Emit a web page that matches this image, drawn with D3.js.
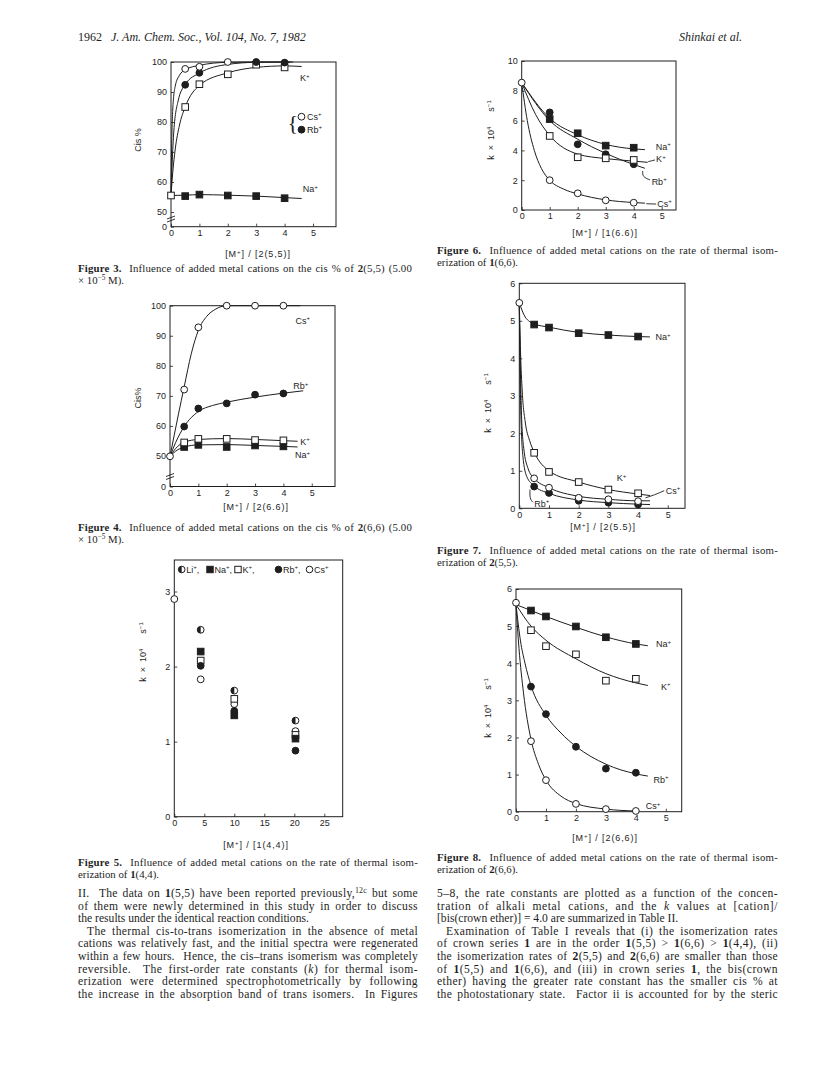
<!DOCTYPE html>
<html>
<head>
<meta charset="utf-8">
<script src="https://cdn.jsdelivr.net/npm/d3@7"></script>
<style>
  body { margin: 0; background: #fff; }
  svg { display: block; }
</style>
</head>
<body>
<svg id="page" width="821" height="1069"></svg>
<script>
// ---- data ----
// Figure 3: cis % of 2(5,5)
const f3XTicks = [0, 1, 2, 3, 4, 5];
const f3YTicks = [0, 50, 60, 70, 80, 90, 100];
const f3Cs = [[0.5, 97.7], [1, 98.4], [2, 100]];
const f3Rb = [[0.5, 92.4], [1, 96.4], [3, 100], [4, 99.8]];
const f3K = [[0, 55.5], [0.5, 85], [1, 92.6], [2, 95.9], [3, 99.1], [4, 98.2]];
const f3Na = [[0.5, 55.3], [1, 55.8], [2, 55.5], [3, 55.3], [4, 54.6]];
const f3CsFit = [[0, 55.5], [0.02, 70], [0.06, 84], [0.15, 92], [0.3, 95.6], [0.5, 97.4], [1, 98.9], [2, 99.9], [3, 100], [4.2, 100]];
const f3RbFit = [[0, 55.5], [0.04, 66], [0.1, 77], [0.25, 87], [0.5, 92.5], [1, 96.3], [2, 99.2], [3, 99.9], [4.3, 100]];
const f3KFit = [[0, 55.5], [0.06, 63], [0.15, 71], [0.3, 79], [0.5, 85], [1, 92.2], [2, 96.4], [3, 98.2], [4, 98.7], [4.6, 98.5]];
const f3NaFit = [[0, 55.5], [0.5, 55.6], [1, 55.8], [2, 55.6], [3, 55.3], [4, 54.8], [4.6, 54.5]];

// Figure 4: cis % of 2(6,6)
const f4XTicks = [0, 1, 2, 3, 4, 5];
const f4YTicks = [0, 50, 60, 70, 80, 90, 100];
const f4Cs = [[0, 49.5], [0.5, 72.1], [1, 92.8], [2, 100], [3, 100], [4, 100]];
const f4Rb = [[0.5, 59.8], [1, 65.8], [2, 67.5], [3, 70.4], [4, 70.8]];
const f4K = [[0.5, 54.5], [1, 55.7], [2, 55.7], [3, 55.3], [4, 55.2]];
const f4Na = [[0.5, 53], [1, 53.7], [2, 53], [3, 53.5], [4, 53.2]];
const f4CsFit = [[0, 49.5], [0.15, 57], [0.3, 64], [0.5, 73], [0.75, 84], [1, 91.8], [1.3, 96.5], [1.6, 98.8], [2, 100], [4.6, 100]];
const f4RbFit = [[0, 49.5], [0.2, 54.5], [0.5, 59.8], [1, 64.8], [1.5, 66.8], [2, 67.9], [3, 69.6], [4, 70.9], [4.7, 71.7]];
const f4KFit = [[0, 49.5], [0.2, 52.5], [0.5, 54.6], [1, 55.5], [2, 55.8], [3, 55.5], [4, 55.1], [4.5, 54.9]];
const f4NaFit = [[0, 49.5], [0.2, 51.6], [0.5, 53], [1, 53.7], [2, 53.8], [3, 53.5], [4, 53.2], [4.5, 53.0]];

// Figure 5: k of 1(4,4)
const f5XTicks = [0, 5, 10, 15, 20, 25];
const f5YTicks = [0, 1, 2, 3];
const f5Li = [[4.4, 2.49], [10, 1.68], [20.2, 1.28]];
const f5Na = [[4.4, 2.2], [10, 1.35], [20.2, 1.04]];
const f5K = [[4.4, 2.08], [10, 1.57], [20.2, 1.09]];
const f5Rb = [[4.4, 2.01], [10, 1.41], [20.2, 0.88]];
const f5Cs = [[0, 2.9], [4.4, 1.83], [10, 1.5], [20.2, 1.14]];

// Figure 6: k of 1(6,6)
const f6XTicks = [0, 1, 2, 3, 4, 5];
const f6YTicks = [0, 2, 4, 6, 8, 10];
const f6Cs = [[0, 8.55], [1, 2.0], [2, 1.12], [3, 0.65], [4, 0.49]];
const f6Na = [[1, 6.1], [2, 5.15], [3, 4.32], [4, 4.18]];
const f6Rb = [[1, 6.55], [2, 4.41], [3, 3.74], [4, 3.07]];
const f6K = [[1, 4.97], [2, 3.54], [3, 3.47], [4, 3.36]];
const f6NaFit = [[0, 8.55], [1, 6.15], [2, 5.05], [3, 4.4], [4, 4.1], [4.4, 4.05]];
const f6RbFit = [[0, 8.55], [1, 6.0], [2, 4.75], [3, 3.8], [4, 3.05], [4.4, 2.8]];
const f6KFit = [[0, 8.55], [0.5, 6.4], [1, 5.0], [2, 3.75], [3, 3.45], [4, 3.28], [4.5, 3.2]];
const f6CsFit = [[0, 8.55], [0.2, 6.0], [0.45, 4.0], [0.7, 2.8], [1, 2.0], [1.5, 1.4], [2, 1.08], [3, 0.68], [4, 0.5], [4.4, 0.46]];

// Figure 7: k of 2(5,5)
const f7XTicks = [0, 1, 2, 3, 4, 5];
const f7YTicks = [0, 1, 2, 3, 4, 5, 6];
const f7Na = [[0.5, 4.9], [1, 4.82], [2, 4.67], [3, 4.62], [4, 4.58]];
const f7K = [[0.5, 1.48], [1, 0.97], [2, 0.7], [3, 0.5], [4, 0.4]];
const f7Cs = [[0, 5.48], [0.5, 0.8], [1, 0.55], [2, 0.28], [3, 0.24], [4, 0.19]];
const f7Rb = [[0.5, 0.58], [1, 0.41], [2, 0.2], [3, 0.15], [4, 0.1]];
const f7NaFit = [[0, 5.48], [0.2, 5.1], [0.5, 4.92], [1, 4.83], [2, 4.69], [3, 4.62], [4, 4.58], [4.4, 4.57]];
const f7KFit = [[0, 5.48], [0.04, 4.2], [0.1, 3.1], [0.2, 2.3], [0.35, 1.8], [0.5, 1.5], [1, 1.0], [2, 0.7], [3, 0.5], [4, 0.38], [4.4, 0.34]];
const f7CsFit = [[0, 5.48], [0.03, 4.0], [0.07, 2.6], [0.15, 1.6], [0.3, 1.05], [0.5, 0.8], [1, 0.55], [2, 0.32], [3, 0.24], [4, 0.2], [4.4, 0.2]];
const f7RbFit = [[0, 5.48], [0.02, 4.0], [0.05, 2.6], [0.12, 1.4], [0.25, 0.85], [0.5, 0.6], [1, 0.4], [2, 0.22], [3, 0.15], [4, 0.11], [4.4, 0.1]];

// Figure 8: k of 2(6,6)
const f8XTicks = [0, 1, 2, 3, 4, 5];
const f8YTicks = [0, 1, 2, 3, 4, 5, 6];
const f8Na = [[0.5, 5.42], [1, 5.26], [2, 4.99], [3, 4.7], [4, 4.52]];
const f8K = [[0.5, 4.89], [1, 4.46], [2, 4.24], [3, 3.53], [4, 3.58]];
const f8Rb = [[0.5, 3.37], [1, 2.63], [2, 1.75], [3, 1.16], [4, 1.05]];
const f8Cs = [[0, 5.63], [0.5, 1.9], [1, 0.85], [2, 0.21], [3, 0.07], [4, 0.02]];
const f8NaFit = [[0, 5.58], [0.5, 5.42], [1, 5.26], [2, 4.97], [3, 4.71], [4, 4.52], [4.4, 4.47]];
const f8KFit = [[0, 5.58], [0.5, 5.0], [1, 4.62], [2, 4.12], [3, 3.72], [4, 3.47], [4.4, 3.4]];
const f8RbFit = [[0, 5.58], [0.15, 4.6], [0.3, 4.0], [0.5, 3.4], [1, 2.6], [1.5, 2.12], [2, 1.76], [3, 1.28], [4, 1.02], [4.4, 0.96]];
const f8CsFit = [[0, 5.58], [0.1, 4.4], [0.25, 3.2], [0.5, 1.95], [0.75, 1.28], [1, 0.85], [1.5, 0.42], [2, 0.22], [3, 0.07], [4, 0.02]];

// ---- page text ----
const captions = {
  f3: ["**Figure 3.**  Influence of added metal cations on the cis % of **2**(5,5) (5.00", "× 10^{−5} M)."],
  f4: ["**Figure 4.**  Influence of added metal cations on the cis % of **2**(6,6) (5.00", "× 10^{−5} M)."],
  f5: ["**Figure 5.**  Influence of added metal cations on the rate of thermal isom-", "erization of **1**(4,4)."],
  f6: ["**Figure 6.**  Influence of added metal cations on the rate of thermal isom-", "erization of **1**(6,6)."],
  f7: ["**Figure 7.**  Influence of added metal cations on the rate of thermal isom-", "erization of **2**(5,5)."],
  f8: ["**Figure 8.**  Influence of added metal cations on the rate of thermal isom-", "erization of **2**(6,6)."]
};
const leftText = [
  "II.  The data on **1**(5,5) have been reported previously,^{12c} but some",
  "of them were newly determined in this study in order to discuss",
  "the results under the identical reaction conditions.",
  "The thermal cis-to-trans isomerization in the absence of metal",
  "cations was relatively fast, and the initial spectra were regenerated",
  "within a few hours.  Hence, the cis–trans isomerism was completely",
  "reversible.  The first-order rate constants (*k*) for thermal isom-",
  "erization were determined spectrophotometrically by following",
  "the increase in the absorption band of trans isomers.  In Figures"
];
const rightText = [
  "5–8, the rate constants are plotted as a function of the concen-",
  "tration of alkali metal cations, and the *k* values at [cation]/",
  "[bis(crown ether)] = 4.0 are summarized in Table II.",
  "Examination of Table I reveals that (i) the isomerization rates",
  "of crown series **1** are in the order **1**(5,5) > **1**(6,6) > **1**(4,4), (ii)",
  "the isomerization rates of **2**(5,5) and **2**(6,6) are smaller than those",
  "of **1**(5,5) and **1**(6,6), and (iii) in crown series **1**, the bis(crown",
  "ether) having the greater rate constant has the smaller cis % at",
  "the photostationary state.  Factor ii is accounted for by the steric"
];

const ink = "#1e1e1e";
const serif = "'Liberation Serif', 'Times New Roman', serif";
const sans = "'Liberation Sans', Arial, sans-serif";
const fsChart = 9;
const svg = d3.select("#page");

svg.append("rect").attr("width", 821).attr("height", 1069).attr("fill", "#fff");

// text with **bold**, *italic* and ^{sup} pieces
function rich(sel, str, fs) {
  let parts = str.split(/(\*\*[^*]+\*\*|\*[^*]+\*|\^\{[^}]+\})/).filter(s => s.length);
  let up = 0;
  parts.forEach(s => {
    let t = sel.append("tspan");
    if (s.startsWith("**")) t.attr("font-weight", "bold").text(s.slice(2, -2));
    else if (s.startsWith("^{")) {
      t.attr("font-size", fs * 0.68).attr("dy", -fs * 0.38).text(s.slice(2, -1));
      up = fs * 0.38;
      return;
    }
    else if (s.startsWith("*")) t.attr("font-style", "italic").text(s.slice(1, -1));
    else t.text(s);
    if (up) { t.attr("dy", up); up = 0; }
  });
  return sel;
}

// one line of serif text, spread to the column width (half by letters, half by word gaps)
function textLine(x, y, str, fs, width) {
  let t = svg.append("text")
    .attr("x", x).attr("y", y)
    .attr("font-family", serif).attr("font-size", fs)
    .attr("fill", ink).style("white-space", "pre");
  rich(t, str, fs);
  if (width) {
    let natural = t.node().getComputedTextLength();
    let plain = t.text();
    let gaps = (plain.match(/ /g) || []).length;
    let extra = width - natural;
    if (gaps > 0 && extra > 0) {
      t.attr("letter-spacing", 0.5 * extra / plain.length);
      t.attr("word-spacing", 0.5 * extra / gaps);
    }
  }
  return t;
}

// header
svg.append("text").attr("x", 78).attr("y", 41).attr("font-family", serif)
  .attr("font-size", 12).attr("fill", ink).style("white-space", "pre")
  .call(t => { t.append("tspan").text("1962   "); t.append("tspan").attr("font-style", "italic").text("J. Am. Chem. Soc., Vol. 104, No. 7, 1982"); });
svg.append("text").attr("x", 742).attr("y", 41).attr("text-anchor", "end")
  .attr("font-family", serif).attr("font-size", 12).attr("font-style", "italic")
  .attr("fill", ink).text("Shinkai et al.");

// ---- markers ----
function marker(g, kind, cx, cy, r) {
  if (kind === "oc" || kind === "fc") {
    g.append("circle").attr("cx", cx).attr("cy", cy).attr("r", r)
      .attr("fill", kind === "fc" ? ink : "#fff").attr("stroke", ink).attr("stroke-width", 1);
  } else if (kind === "os" || kind === "fs") {
    g.append("rect").attr("x", cx - r).attr("y", cy - r).attr("width", 2 * r).attr("height", 2 * r)
      .attr("fill", kind === "fs" ? ink : "#fff").attr("stroke", ink).attr("stroke-width", 1);
  } else if (kind === "hc") {
    g.append("circle").attr("cx", cx).attr("cy", cy).attr("r", r)
      .attr("fill", "#fff").attr("stroke", ink).attr("stroke-width", 1);
    g.append("path")
      .attr("d", `M${cx},${cy - r} A${r},${r} 0 0 0 ${cx},${cy + r} Z`)
      .attr("fill", ink);
  }
}

// ---- one plot panel ----
function drawPanel(p) {
  let x = d3.scaleLinear().domain([0, p.xMax]).range([p.left, p.right]);
  let y = d3.scaleLinear().domain(p.yDomain).range(p.yRange);
  let g = svg.append("g");

  g.append("rect")
    .attr("x", p.left).attr("y", p.top)
    .attr("width", p.right - p.left).attr("height", p.bottom - p.top)
    .attr("fill", "none").attr("stroke", ink).attr("stroke-width", 1);

  let yAxis = g.append("g").attr("transform", `translate(${p.left},0)`)
    .call(d3.axisLeft(y).tickValues(p.yTicks).tickSize(-3).tickPadding(4).tickFormat(d3.format("d")));
  let xAxis = g.append("g").attr("transform", `translate(0,${p.bottom})`)
    .call(d3.axisBottom(x).tickValues(p.xTicks).tickSize(-3).tickPadding(3).tickFormat(d3.format("d")));
  [xAxis, yAxis].forEach(a => {
    a.select(".domain").remove();
    a.attr("font-family", sans).attr("font-size", fsChart).attr("color", ink);
    a.selectAll("line").attr("stroke-width", 0.8);
  });

  // axis break between 0 and 50
  if (p.brk) {
    [0, 3].forEach(o => {
      g.append("line")
        .attr("x1", p.left - 4).attr("y1", p.brk + o + 1.5)
        .attr("x2", p.left + 4).attr("y2", p.brk + o - 1.5)
        .attr("stroke", ink).attr("stroke-width", 0.9);
    });
  }

  let line = d3.line()
    .x(d => x(d[0]))
    .y(d => y(d[1]))
    .curve(d3.curveMonotoneX);

  p.series.forEach(s => {
    if (s.fit) {
      g.append("path").attr("d", line(s.fit))
        .attr("fill", "none").attr("stroke", ink).attr("stroke-width", 1);
    }
  });
  p.series.forEach(s => {
    s.pts.forEach(d => marker(g, s.kind, x(d[0]), y(d[1]), s.kind.endsWith("s") ? 3.3 : 3.4));
  });

  (p.leaders || []).forEach(l => {
    g.append("path").attr("d", d3.line().x(d => x(d[0])).y(d => y(d[1])).curve(d3.curveNatural)(l))
      .attr("fill", "none").attr("stroke", ink).attr("stroke-width", 0.9);
  });

  (p.labels || []).forEach(l => {
    let t = g.append("text").attr("x", x(l.x)).attr("y", y(l.y))
      .attr("dy", "0.35em").attr("font-family", sans).attr("font-size", fsChart).attr("fill", ink);
    rich(t, l.t, fsChart);
  });

  // axis titles
  let yt = g.append("text")
    .attr("transform", `translate(${p.yTitle[0]},${p.yTitle[1]}) rotate(-90)`)
    .attr("text-anchor", "middle").attr("font-family", sans).attr("font-size", fsChart)
    .attr("fill", ink).style("white-space", "pre");
  rich(yt, p.yTitle[2], fsChart);
  let xt = g.append("text")
    .attr("x", p.xTitle[0]).attr("y", p.xTitle[1])
    .attr("text-anchor", "middle").attr("font-family", sans).attr("font-size", fsChart)
    .attr("letter-spacing", 0.9).attr("fill", ink).style("white-space", "pre");
  rich(xt, p.xTitle[2], fsChart);

  return { x: x, y: y, g: g };
}

const kLabel = "k  ×  10^{4}      s^{−1}";

drawPanel({
  left: 171, right: 336, top: 62, bottom: 226.7, xMax: 5.81,
  yDomain: [0, 50, 100], yRange: [226.7, 212, 62], brk: 217.5,
  xTicks: f3XTicks, yTicks: f3YTicks,
  yTitle: [141, 140, "Cis %"], xTitle: [258, 257, "[M^{+}] / [2(5,5)]"],
  series: [
    { kind: "fs", pts: f3Na, fit: f3NaFit },
    { kind: "os", pts: f3K, fit: f3KFit },
    { kind: "fc", pts: f3Rb, fit: f3RbFit },
    { kind: "oc", pts: f3Cs, fit: f3CsFit }
  ],
  labels: [{ t: "K^{+}", x: 4.54, y: 94.6 }, { t: "Na^{+}", x: 4.64, y: 57.6 }]
});
// Cs/Rb legend with brace
svg.append("text").attr("x", 287.5).attr("y", 129.5).attr("font-family", serif)
  .attr("font-size", 22).attr("fill", ink).text("{");
marker(svg, "oc", 301.5, 116.7, 3.4);
marker(svg, "fc", 301.5, 129.7, 3.4);
rich(svg.append("text").attr("x", 307).attr("y", 119.8).attr("font-family", sans)
  .attr("font-size", fsChart).attr("fill", ink), "Cs^{+}", fsChart);
rich(svg.append("text").attr("x", 307).attr("y", 132.8).attr("font-family", sans)
  .attr("font-size", fsChart).attr("fill", ink), "Rb^{+}", fsChart);

drawPanel({
  left: 170, right: 335, top: 305.7, bottom: 486.5, xMax: 5.82,
  yDomain: [0, 50, 100], yRange: [486.5, 456, 305.7], brk: 475,
  xTicks: f4XTicks, yTicks: f4YTicks,
  yTitle: [141, 398, "Cis%"], xTitle: [256, 510, "[M^{+}] / [2(6.6)]"],
  series: [
    { kind: "fs", pts: f4Na, fit: f4NaFit },
    { kind: "os", pts: f4K, fit: f4KFit },
    { kind: "fc", pts: f4Rb, fit: f4RbFit },
    { kind: "oc", pts: f4Cs, fit: f4CsFit }
  ],
  labels: [
    { t: "Cs^{+}", x: 4.43, y: 95 }, { t: "Rb^{+}", x: 4.35, y: 73.2 },
    { t: "K^{+}", x: 4.59, y: 54.8 }, { t: "Na^{+}", x: 4.41, y: 50.4 }
  ]
});

drawPanel({
  left: 174.3, right: 342.7, top: 560, bottom: 816.7, xMax: 28.07,
  yDomain: [0, 3.42], yRange: [816.7, 560],
  xTicks: f5XTicks, yTicks: f5YTicks,
  yTitle: [146, 652, kLabel], xTitle: [256, 848, "[M^{+}] / [1(4,4)]"],
  series: [
    { kind: "oc", pts: f5Cs },
    { kind: "os", pts: f5K },
    { kind: "fs", pts: f5Na },
    { kind: "fc", pts: f5Rb },
    { kind: "hc", pts: f5Li }
  ]
});
// Figure 5 legend along the top edge
[["hc", "Li^{+},", 181.7], ["fs", "Na^{+},", 210], ["os", "K^{+},", 238], ["fc", "Rb^{+},", 278.5], ["oc", "Cs^{+}", 309.5]]
  .forEach(d => {
    marker(svg, d[0], d[2], 569.5, d[0].endsWith("s") ? 3.2 : 3.3);
    rich(svg.append("text").attr("x", d[2] + 4.5).attr("y", 572.6).attr("font-family", sans)
      .attr("font-size", 9).attr("fill", ink), d[1], 9);
  });

drawPanel({
  left: 521.7, right: 676, top: 61, bottom: 210, xMax: 5.51,
  yDomain: [0, 10], yRange: [210, 61],
  xTicks: f6XTicks, yTicks: f6YTicks,
  yTitle: [494, 130, kLabel], xTitle: [605, 236, "[M^{+}] / [1(6.6)]"],
  series: [
    { kind: "fs", pts: f6Na, fit: f6NaFit },
    { kind: "fc", pts: f6Rb, fit: f6RbFit },
    { kind: "os", pts: f6K, fit: f6KFit },
    { kind: "oc", pts: f6Cs, fit: f6CsFit }
  ],
  leaders: [
    [[4.52, 3.25], [4.64, 3.3], [4.76, 3.36]],
    [[4.32, 2.62], [4.36, 2.25], [4.58, 2.02]],
    [[4.45, 0.42], [4.62, 0.41], [4.8, 0.4]]
  ],
  labels: [
    { t: "Na^{+}", x: 4.79, y: 4.25 }, { t: "K^{+}", x: 4.8, y: 3.42 },
    { t: "Rb^{+}", x: 4.64, y: 1.9 }, { t: "Cs^{+}", x: 4.84, y: 0.42 }
  ]
});

drawPanel({
  left: 519.3, right: 685, top: 283.3, bottom: 508.3, xMax: 5.58,
  yDomain: [0, 6], yRange: [508.3, 283.3],
  xTicks: f7XTicks, yTicks: f7YTicks,
  yTitle: [491, 403, kLabel], xTitle: [603, 530, "[M^{+}] / [2(5.5)]"],
  series: [
    { kind: "fs", pts: f7Na, fit: f7NaFit },
    { kind: "os", pts: f7K, fit: f7KFit },
    { kind: "fc", pts: f7Rb, fit: f7RbFit },
    { kind: "oc", pts: f7Cs, fit: f7CsFit }
  ],
  leaders: [
    [[4.25, 0.28], [4.55, 0.36], [4.88, 0.47]],
    [[0.36, 0.5], [0.37, 0.28], [0.46, 0.16]]
  ],
  labels: [
    { t: "Na^{+}", x: 4.59, y: 4.56 }, { t: "K^{+}", x: 3.28, y: 0.8 },
    { t: "Cs^{+}", x: 4.93, y: 0.47 }, { t: "Rb^{+}", x: 0.5, y: 0.13 }
  ]
});

drawPanel({
  left: 516, right: 681.7, top: 589, bottom: 811.7, xMax: 5.53,
  yDomain: [0, 6], yRange: [811.7, 589],
  xTicks: f8XTicks, yTicks: f8YTicks,
  yTitle: [491, 708, kLabel], xTitle: [605, 841, "[M^{+}] / [2(6,6)]"],
  series: [
    { kind: "fs", pts: f8Na, fit: f8NaFit },
    { kind: "os", pts: f8K, fit: f8KFit },
    { kind: "fc", pts: f8Rb, fit: f8RbFit },
    { kind: "oc", pts: f8Cs, fit: f8CsFit }
  ],
  labels: [
    { t: "Na^{+}", x: 4.67, y: 4.51 }, { t: "K^{+}", x: 4.84, y: 3.37 },
    { t: "Rb^{+}", x: 4.59, y: 0.87 }, { t: "Cs^{+}", x: 4.33, y: 0.15 }
  ]
});

// ---- captions ----
function caption(lines, x, y, w1) {
  textLine(x, y, lines[0], 10.8, w1);
  textLine(x, y + 12.5, lines[1], 10.8);
}
caption(captions.f3, 78, 271.5, 334);
caption(captions.f4, 78, 530.5, 334);
caption(captions.f5, 78, 865.5, 340);
caption(captions.f6, 437, 253.5, 341);
caption(captions.f7, 437, 553.5, 341);
caption(captions.f8, 437, 860.5, 341);

// ---- body text, justified except paragraph ends ----
function column(lines, x, w, ends, indents) {
  lines.forEach((s, i) => {
    let ind = indents.includes(i) ? 9 : 0;
    textLine(x + ind, 897 + i * 12.6, s, 11.6, ends.includes(i) ? null : w - ind);
  });
}
column(leftText, 78, 340, [2], [3]);
column(rightText, 437, 341, [2], [3]);
</script>
</body>
</html>
